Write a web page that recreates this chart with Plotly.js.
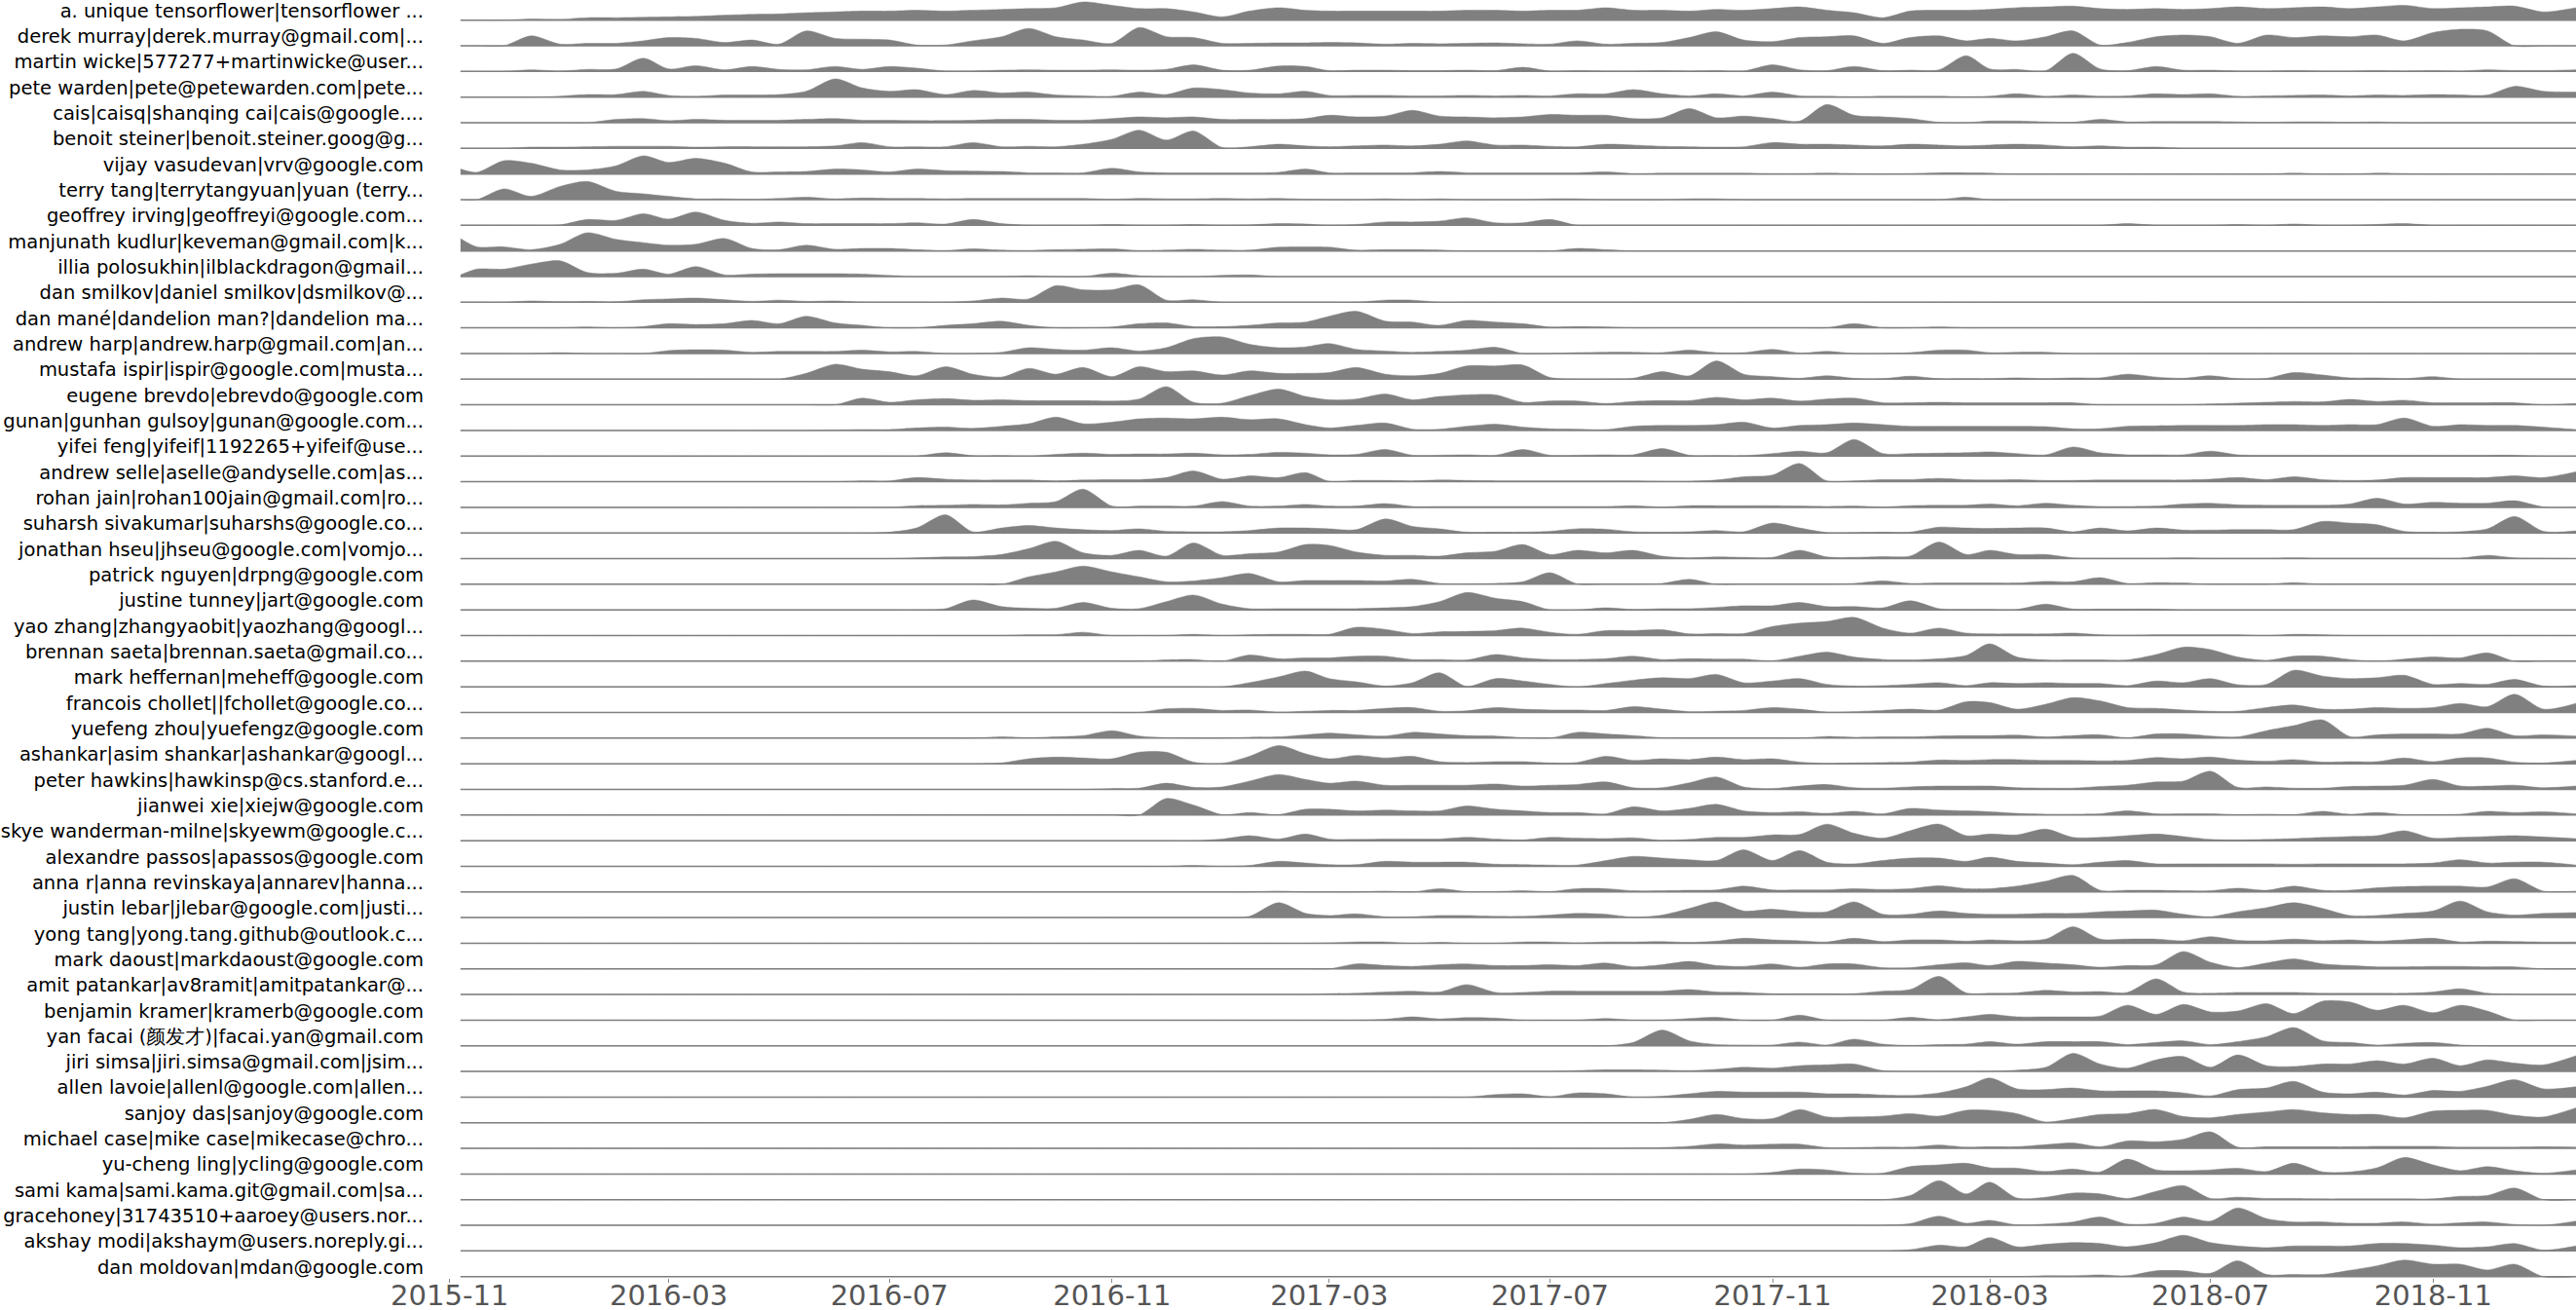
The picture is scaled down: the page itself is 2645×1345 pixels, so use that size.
<!DOCTYPE html>
<html>
<head>
<meta charset="utf-8">
<script src="https://cdn.plot.ly/plotly-3.0.1.min.js"></script>
<style>html,body{margin:0;padding:0;background:#fff;}#chart{width:2645px;height:1345px;}</style>
</head>
<body>
<div id="chart"></div>
<script>
// Sample dates (half-month grid)
const dates = ["2015-11-07","2015-11-16","2015-12-01","2015-12-16",
"2016-01-01","2016-01-16","2016-02-01","2016-02-16","2016-03-01","2016-03-16","2016-04-01","2016-04-16","2016-05-01","2016-05-16","2016-06-01","2016-06-16","2016-07-01","2016-07-16","2016-08-01","2016-08-16","2016-09-01","2016-09-16","2016-10-01","2016-10-16","2016-11-01","2016-11-16","2016-12-01","2016-12-16",
"2017-01-01","2017-01-16","2017-02-01","2017-02-16","2017-03-01","2017-03-16","2017-04-01","2017-04-16","2017-05-01","2017-05-16","2017-06-01","2017-06-16","2017-07-01","2017-07-16","2017-08-01","2017-08-16","2017-09-01","2017-09-16","2017-10-01","2017-10-16","2017-11-01","2017-11-16","2017-12-01","2017-12-16",
"2018-01-01","2018-01-16","2018-02-01","2018-02-16","2018-03-01","2018-03-16","2018-04-01","2018-04-16","2018-05-01","2018-05-16","2018-06-01","2018-06-16","2018-07-01","2018-07-16","2018-08-01","2018-08-16","2018-09-01","2018-09-16","2018-10-01","2018-10-16","2018-11-01","2018-11-16","2018-12-01","2018-12-16",
"2019-01-01","2019-01-19"];

const contributors = [
"a. unique tensorflower|tensorflower ...",
"derek murray|derek.murray@gmail.com|...",
"martin wicke|577277+martinwicke@user...",
"pete warden|pete@petewarden.com|pete...",
"cais|caisq|shanqing cai|cais@google....",
"benoit steiner|benoit.steiner.goog@g...",
"vijay vasudevan|vrv@google.com",
"terry tang|terrytangyuan|yuan (terry...",
"geoffrey irving|geoffreyi@google.com...",
"manjunath kudlur|keveman@gmail.com|k...",
"illia polosukhin|ilblackdragon@gmail...",
"dan smilkov|daniel smilkov|dsmilkov@...",
"dan mané|dandelion man?|dandelion ma...",
"andrew harp|andrew.harp@gmail.com|an...",
"mustafa ispir|ispir@google.com|musta...",
"eugene brevdo|ebrevdo@google.com",
"gunan|gunhan gulsoy|gunan@google.com...",
"yifei feng|yifeif|1192265+yifeif@use...",
"andrew selle|aselle@andyselle.com|as...",
"rohan jain|rohan100jain@gmail.com|ro...",
"suharsh sivakumar|suharshs@google.co...",
"jonathan hseu|jhseu@google.com|vomjo...",
"patrick nguyen|drpng@google.com",
"justine tunney|jart@google.com",
"yao zhang|zhangyaobit|yaozhang@googl...",
"brennan saeta|brennan.saeta@gmail.co...",
"mark heffernan|meheff@google.com",
"francois chollet||fchollet@google.co...",
"yuefeng zhou|yuefengz@google.com",
"ashankar|asim shankar|ashankar@googl...",
"peter hawkins|hawkinsp@cs.stanford.e...",
"jianwei xie|xiejw@google.com",
"skye wanderman-milne|skyewm@google.c...",
"alexandre passos|apassos@google.com",
"anna r|anna revinskaya|annarev|hanna...",
"justin lebar|jlebar@google.com|justi...",
"yong tang|yong.tang.github@outlook.c...",
"mark daoust|markdaoust@google.com",
"amit patankar|av8ramit|amitpatankar@...",
"benjamin kramer|kramerb@google.com",
"yan facai (颜发才)|facai.yan@gmail.com",
"jiri simsa|jiri.simsa@gmail.com|jsim...",
"allen lavoie|allenl@google.com|allen...",
"sanjoy das|sanjoy@google.com",
"michael case|mike case|mikecase@chro...",
"yu-cheng ling|ycling@google.com",
"sami kama|sami.kama.git@gmail.com|sa...",
"gracehoney|31743510+aaroey@users.nor...",
"akshay modi|akshaym@users.noreply.gi...",
"dan moldovan|mdan@google.com"
];

// Activity density per contributor (relative units, 62 = one row height)
const r01 = [0,0,0,3,2,6,6,7,8,9, 12,14,15,18,20,22,22,24,22,24, 26,28,30,44,36,28,28,20,8,22, 30,24,22,22,22,22,22,24,24,22, 24,24,30,24,24,22,26,24,28,32, 24,18,6,22,24,24,26,30,32,34, 28,26,28,26,28,32,28,30,32,28, 32,36,28,30,32,34,20,30];
const r02 = [0,0,0,24,4,6,6,12,20,18, 8,14,4,36,18,16,14,2,2,12, 22,42,22,14,6,44,22,20,6,6, 7,7,8,7,4,6,5,6,7,5, 4,12,4,6,8,20,34,14,10,20, 22,24,6,20,24,12,18,12,22,36, 2,8,22,26,22,6,26,20,24,22, 26,12,32,40,36,0,0,0];
const r03 = [0,0,0,4,1,5,6,32,6,14, 4,12,5,4,12,5,12,8,1,1, 3,4,3,3,4,3,5,16,3,3, 13,12,2,3,3,2,2,3,2,10, 1,2,1,1,2,1,2,1,16,4, 2,12,2,3,4,38,6,5,2,44, 6,2,12,3,3,1,1,2,1,1, 2,1,2,1,4,2,2,4];
const r04 = [0,0,0,0,2,6,6,14,4,2, 5,5,6,14,44,22,14,18,6,16, 10,12,5,3,2,12,6,22,18,10, 8,14,4,4,4,3,3,4,3,4, 3,8,8,18,8,3,8,3,12,3, 2,1,2,2,2,1,2,8,2,5, 2,3,8,6,8,2,3,4,5,3, 5,4,6,5,5,26,14,12];
const r05 = [0,0,0,0,0,0,8,10,5,8, 6,6,6,8,10,6,6,5,5,6, 8,8,6,6,10,14,12,14,8,8, 8,10,18,14,16,30,16,14,12,14, 20,18,18,10,12,34,12,16,10,4, 44,18,14,10,1,0,4,4,2,1, 8,2,3,3,3,2,1,2,2,1, 2,0,0,0,0,0,0,0];
const r06 = [0,0,0,3,3,4,5,5,5,3, 4,4,4,4,6,14,4,4,4,14, 4,5,4,10,22,44,20,42,2,4, 10,6,4,6,8,6,10,18,8,8, 5,4,10,8,5,4,3,4,14,10, 10,8,6,10,8,6,8,10,8,4, 6,3,3,0,0,0,0,0,0,0, 0,0,0,0,0,0,0,0];
const r07 = [12,4,32,26,10,10,20,44,28,38, 26,5,5,6,12,10,5,12,8,7, 6,3,3,3,14,5,3,3,3,3, 4,12,3,3,3,3,6,3,3,3, 3,3,5,1,2,2,2,2,1,1, 2,1,0,1,3,3,2,0,0,0, 0,0,0,0,0,0,0,2,0,0, 2,1,0,0,0,0,0,0];
const r08 = [0,0,26,8,32,44,20,14,8,2, 2,1,3,6,2,4,3,3,2,3, 3,3,3,3,1,3,2,2,3,2, 3,1,0,0,2,0,2,0,0,0, 2,2,0,0,0,2,2,0,0,0, 0,0,0,0,0,6,0,0,0,0, 0,0,0,0,0,0,0,0,0,0, 0,0,0,0,0,0,0,0];
const r09 = [0,0,0,0,1,14,12,28,15,32, 12,5,8,4,4,4,4,6,3,14, 4,0,0,0,2,0,0,2,0,1, 4,3,0,2,8,8,10,18,6,6, 14,0,0,0,0,0,0,0,0,0, 0,0,0,0,0,0,0,0,0,0, 0,4,0,0,0,2,0,3,0,0, 2,4,0,0,0,0,0,0];
const r10 = [30,10,10,3,16,44,28,20,14,16, 30,6,3,14,4,6,6,3,1,5, 2,1,3,4,5,1,2,4,2,2, 9,10,9,2,3,3,2,0,0,0, 0,6,3,0,0,0,0,0,0,0, 0,0,0,0,0,0,0,0,0,0, 0,0,0,0,0,0,0,0,0,0, 0,0,0,0,0,0,0,0];
const r11 = [4,18,18,30,38,10,8,18,6,24, 4,6,7,7,7,6,3,0,0,0, 0,2,0,0,8,2,0,0,3,4, 0,0,0,0,0,0,0,0,0,0, 0,0,0,0,0,0,0,0,0,0, 0,0,0,0,0,0,0,0,0,0, 0,0,0,0,0,0,0,0,0,0, 0,0,0,0,0,0,0,0];
const r12 = [0,0,0,3,1,2,1,6,8,10, 6,2,5,2,3,0,0,0,0,3, 10,8,40,30,30,42,5,6,0,0, 0,0,0,0,5,5,0,0,0,0, 0,0,0,0,0,0,0,0,0,0, 0,0,0,0,0,0,0,0,0,0, 0,0,0,0,0,0,0,0,0,0, 0,0,0,0,0,0,0,0];
const r13 = [0,0,0,0,0,2,0,3,10,8, 10,18,10,28,12,6,0,0,6,10, 16,6,0,0,2,10,12,3,3,6, 12,14,28,40,16,14,6,18,14,10, 2,3,2,0,0,0,0,0,0,0, 0,10,0,0,2,0,0,0,0,0, 0,0,0,0,0,0,0,0,0,0, 0,0,0,0,0,0,0,0];
const r14 = [0,0,0,0,2,0,0,0,7,9, 8,3,5,5,5,8,4,5,0,0, 3,14,10,8,14,6,14,36,40,22, 14,16,24,10,6,3,5,8,15,0, 0,2,3,3,2,8,2,2,10,1, 5,0,0,2,8,8,2,3,3,0, 0,0,0,0,0,0,0,0,0,0, 0,0,0,0,0,0,0,0];
const r15 = [0,0,0,0,0,0,0,0,0,0, 0,0,0,14,36,24,18,8,30,12, 5,26,12,28,6,30,18,20,10,20, 14,14,16,28,12,8,14,32,32,34, 4,0,0,2,18,8,44,12,6,2, 8,2,1,7,1,1,1,3,1,3, 3,12,5,2,8,1,2,16,10,3, 3,1,6,0,0,0,0,0];
const r16 = [0,0,0,0,0,0,0,0,0,0, 0,0,0,0,0,16,6,12,15,11, 12,10,10,10,9,14,44,6,4,22, 38,20,12,14,26,12,20,24,24,6, 9,9,3,8,10,10,18,12,16,9, 14,16,5,5,6,5,5,5,5,5, 0,0,0,0,2,4,6,8,7,13, 8,11,5,5,5,5,0,3];
const r17 = [0,0,0,0,0,0,0,0,0,0, 0,0,0,0,1,2,2,6,8,5, 10,16,32,16,20,28,30,28,32,26, 28,14,6,12,18,3,3,10,15,8, 4,3,2,10,12,12,14,20,6,12, 14,18,14,10,10,10,10,10,9,4, 4,10,11,12,12,12,14,14,12,14, 14,30,10,14,12,12,8,2];
const r18 = [0,0,0,0,0,0,0,0,0,0, 0,0,0,0,0,0,0,0,8,1, 1,0,4,7,4,5,5,7,3,4, 9,7,3,4,16,2,2,3,2,16, 2,2,3,3,18,2,1,1,6,12, 8,40,6,6,7,8,10,6,3,22, 8,3,3,3,12,3,2,2,2,2, 2,2,2,2,2,2,0,0];
const r19 = [0,0,0,0,0,0,0,0,0,0, 0,0,0,0,0,2,2,10,6,4, 4,4,2,4,5,5,10,26,6,14, 10,22,1,3,3,2,4,3,2,2, 2,2,2,2,1,1,4,12,16,44, 2,2,5,5,8,5,4,5,3,3, 4,4,4,4,6,10,5,12,5,3, 4,10,10,10,10,14,10,24];
const r20 = [0,0,0,0,0,0,0,0,0,0, 0,0,0,0,0,0,0,4,5,7, 6,10,14,44,3,3,3,3,14,3, 3,7,3,3,9,2,2,2,2,2, 2,2,2,4,1,4,4,4,4,3, 2,3,1,4,5,5,8,4,10,5, 2,2,3,8,10,6,5,5,5,8, 22,8,12,10,10,16,1,0];
const r21 = [0,0,0,0,0,0,0,0,0,0, 0,0,0,0,0,0,2,12,44,3, 12,18,12,8,6,10,4,3,3,6, 12,12,10,8,34,16,10,2,2,2, 4,10,9,3,2,3,6,3,24,12, 1,1,2,2,14,12,11,12,12,3, 12,5,12,7,7,8,8,8,28,24, 20,4,2,3,10,40,4,5];
const r22 = [0,0,0,0,0,0,0,0,0,0, 0,0,0,0,0,0,0,2,4,5, 10,24,42,14,8,20,6,38,8,12, 16,34,32,16,8,8,6,14,18,34, 10,20,14,20,6,2,4,3,3,20, 4,3,5,6,40,10,20,10,10,2, 1,1,1,2,1,1,1,2,1,1, 1,1,1,1,8,2,1,0];
const r23 = [0,0,0,0,0,0,0,0,0,0, 0,0,0,0,0,0,0,0,0,0, 0,18,30,44,30,18,6,8,16,26, 6,9,9,9,8,12,2,1,2,6, 28,1,0,0,2,12,0,0,0,0, 0,2,8,2,3,3,3,3,7,6, 16,2,4,3,0,0,0,4,0,0, 0,0,0,0,0,0,0,0];
const r24 = [0,0,0,0,0,0,0,0,0,0, 0,0,0,0,0,0,0,0,3,24, 8,4,4,18,4,3,20,36,14,3, 3,3,3,3,5,8,20,42,28,20, 0,0,5,1,3,3,6,10,10,18, 8,8,5,22,3,1,1,1,14,2, 2,2,2,0,0,0,0,0,0,0, 0,0,0,0,0,0,0,0];
const r25 = [0,0,0,0,0,0,0,0,0,0, 0,0,0,0,0,0,0,0,0,0, 0,2,2,8,0,0,0,3,0,2, 3,3,3,20,15,5,9,10,12,18, 8,3,12,12,14,4,5,5,22,30, 34,44,18,6,18,6,4,4,4,6, 2,1,2,2,2,2,0,3,2,0, 0,0,0,0,0,0,0,0];
const r26 = [0,0,0,0,0,0,0,0,0,0, 0,0,0,0,0,0,0,0,0,0, 0,0,0,0,0,0,3,4,0,15, 6,8,8,12,12,4,4,3,16,8, 4,4,6,12,4,6,5,5,1,12, 22,10,4,3,6,14,42,10,3,3, 3,3,16,34,28,10,2,12,12,4, 0,5,10,8,20,0,0,0];
const r27 = [0,0,0,0,0,0,0,0,0,0, 0,0,0,0,0,0,0,0,0,0, 0,0,0,0,0,0,0,0,0,10, 24,38,20,12,2,10,34,1,20,14, 6,0,8,16,22,20,30,10,14,20, 6,2,3,6,10,3,10,8,10,8, 8,3,14,10,20,5,6,40,26,20, 22,28,6,8,6,18,2,3];
const r28 = [0,0,0,0,0,0,0,0,0,0, 0,0,0,0,0,0,0,0,0,0, 0,0,0,0,0,0,9,10,5,6, 1,3,5,5,10,12,3,4,12,8, 6,6,5,14,8,2,3,5,12,8, 1,2,5,8,6,26,24,8,20,36, 28,12,10,6,3,3,12,18,8,8, 12,10,12,22,14,44,8,22];
const r29 = [0,0,0,0,0,0,0,0,0,0, 0,0,0,0,0,0,0,0,0,0, 3,1,3,6,18,5,1,0,0,2, 3,8,12,8,5,14,10,6,5,1, 0,14,10,6,1,0,0,0,0,0, 4,2,3,3,5,6,6,7,3,6, 8,1,10,10,5,3,18,30,44,4, 8,10,10,10,24,6,8,5];
const r30 = [0,0,0,0,0,0,0,0,0,0, 0,0,0,0,0,0,0,0,0,0, 2,12,16,14,12,28,28,4,1,18, 44,24,12,20,14,18,5,3,5,5, 2,3,18,8,12,10,16,10,12,4, 1,2,3,4,9,8,10,10,8,8, 7,8,15,12,16,9,6,10,4,5, 5,14,5,14,14,4,2,8];
const r31 = [0,0,0,0,0,0,0,0,0,0, 0,0,0,0,0,0,0,0,0,0, 0,0,0,0,2,3,15,5,6,20, 36,24,15,20,10,10,10,10,13,8, 10,12,18,4,4,16,30,6,2,8, 12,4,3,6,8,8,8,4,3,3, 7,10,18,20,44,5,6,3,3,7, 8,10,24,8,8,10,4,8];
const r32 = [0,0,0,0,0,0,0,0,0,0, 0,0,0,0,0,0,0,0,0,0, 0,0,0,0,0,0,40,24,1,6, 1,14,14,10,12,10,10,22,14,10, 6,6,3,20,10,16,26,10,6,8, 4,9,3,16,12,10,8,4,2,2, 3,10,3,3,3,1,2,1,9,2, 6,1,1,2,9,6,8,3];
const r33 = [0,0,0,0,0,0,0,0,0,0, 0,0,0,0,0,0,0,0,0,0, 0,0,0,0,0,0,0,0,4,12, 4,16,4,3,4,4,4,8,4,2, 8,6,5,7,1,3,8,8,14,15, 40,18,6,24,40,12,16,14,28,8, 8,12,16,10,3,2,3,5,8,10, 12,24,6,8,10,12,9,5];
const r34 = [0,0,0,0,0,0,0,0,0,0, 0,0,0,0,0,0,0,0,0,0, 0,0,0,0,0,0,0,2,0,2, 12,8,4,4,12,10,10,10,5,4, 3,3,14,24,20,16,14,40,14,38, 10,6,14,20,20,12,22,12,8,4, 10,14,6,6,6,6,6,5,6,6, 6,6,8,16,8,10,10,3];
const r35 = [0,0,0,0,0,0,0,0,0,0, 0,0,0,0,0,0,0,0,0,0, 0,0,0,0,0,0,0,0,0,0, 2,0,0,0,2,0,8,1,1,3, 1,8,8,3,3,4,5,14,5,5, 5,8,6,8,15,8,8,14,26,40, 4,4,4,3,3,9,4,14,4,4, 10,13,14,14,12,32,2,2];
const r36 = [0,0,0,0,0,0,0,0,0,0, 0,0,0,0,0,0,0,0,0,0, 0,0,0,0,0,0,0,0,0,3, 36,10,5,9,2,2,5,5,3,3, 6,10,8,1,6,22,38,16,20,14, 14,38,8,8,16,10,8,8,10,10, 14,16,18,8,2,14,24,36,22,5, 5,10,16,40,14,6,10,12];
const r37 = [0,0,0,0,0,0,0,0,0,0, 0,0,0,0,0,0,0,0,0,0, 0,0,0,0,0,0,0,0,0,0, 0,0,1,3,3,0,2,0,0,3, 3,1,3,3,4,2,5,12,8,6, 3,12,4,8,8,5,8,6,10,40, 10,10,10,6,16,7,6,10,6,8, 5,8,12,3,5,4,3,3];
const r38 = [0,0,0,0,0,0,0,0,0,0, 0,0,0,0,0,0,0,0,0,0, 0,0,0,0,0,0,0,0,0,0, 0,0,0,12,8,6,10,12,8,8, 10,8,14,5,10,18,8,6,12,4, 12,12,3,3,10,15,8,18,14,10, 4,8,10,42,16,3,14,24,12,8, 5,5,6,6,5,5,0,0];
const r39 = [0,0,0,0,0,0,0,0,0,0, 0,0,0,0,0,0,0,0,0,0, 0,0,0,0,0,0,0,0,0,0, 0,0,2,3,6,8,6,24,5,5, 8,8,8,8,8,12,6,5,2,2, 2,2,8,12,44,4,3,4,10,6, 7,5,38,6,3,5,5,5,3,3, 3,3,6,14,3,1,0,0];
const r40 = [0,0,0,0,0,0,0,0,0,0, 0,0,0,0,0,0,0,0,0,0, 0,0,0,0,0,0,0,0,0,0, 0,0,0,0,2,8,3,6,5,0, 0,0,4,0,0,4,7,0,0,12, 0,0,0,7,1,8,14,8,8,8, 10,36,14,38,20,22,40,16,46,44, 24,36,18,36,22,0,0,0];
const r41 = [0,0,0,0,0,0,0,0,0,0, 0,0,0,0,0,0,0,0,0,0, 0,0,0,0,0,0,0,0,0,0, 0,0,0,0,0,0,0,0,0,0, 0,0,0,8,38,12,3,2,2,9, 2,16,4,1,3,4,10,4,10,10, 10,3,8,12,3,10,22,44,12,8, 2,6,8,2,0,0,0,0];
const r42 = [0,0,0,0,0,0,0,0,0,0, 0,0,0,0,0,0,0,0,0,0, 0,0,0,0,0,0,0,0,0,0, 0,0,0,0,0,0,0,0,0,0, 0,2,4,4,3,2,5,10,8,14, 16,18,2,0,0,0,0,3,10,44, 18,8,28,36,10,40,14,12,18,18, 26,18,32,14,28,20,16,38];
const r43 = [0,0,0,0,0,0,0,0,0,0, 0,0,0,0,0,0,0,0,0,0, 0,0,0,0,0,0,0,0,0,0, 0,0,0,0,0,0,0,0,6,8, 1,10,8,0,2,8,14,12,12,12, 8,8,5,4,10,25,46,20,18,22, 15,15,15,10,3,18,22,38,12,8, 12,5,16,14,26,42,20,25];
const r44 = [0,0,0,0,0,0,0,0,0,0, 0,0,0,0,0,0,0,0,0,0, 0,0,0,0,0,0,0,0,0,0, 0,0,0,0,0,0,0,0,0,0, 0,0,0,0,0,8,20,10,10,32, 14,14,16,22,16,30,30,22,2,10, 20,22,32,15,12,20,26,32,24,20, 20,12,28,30,30,18,14,36];
const r45 = [0,0,0,0,0,0,0,0,0,0, 0,0,0,0,0,0,0,0,0,0, 0,0,0,0,0,0,0,0,0,0, 0,0,0,0,0,0,0,0,0,0, 0,0,0,1,2,5,11,8,10,10, 2,2,3,3,8,3,4,4,9,13, 4,18,16,22,40,3,4,4,4,4, 5,5,5,3,3,3,4,3];
const r46 = [0,0,0,0,0,0,0,0,0,0, 0,0,0,0,0,0,0,0,0,0, 0,0,0,0,0,0,0,0,0,0, 0,0,0,0,0,0,0,0,0,0, 0,0,0,0,0,0,0,0,4,12, 10,2,2,18,22,26,15,14,6,12, 5,36,10,8,10,14,6,26,5,5, 15,40,22,8,18,8,2,10];
const r47 = [0,0,0,0,0,0,0,0,0,0, 0,0,0,0,0,0,0,0,0,0, 0,0,0,0,0,0,0,0,0,0, 0,0,0,0,0,0,0,0,0,0, 0,0,0,0,0,0,0,0,0,0, 0,0,0,10,46,14,42,4,6,16, 14,3,20,34,3,6,3,3,2,2, 2,2,2,8,10,28,0,0];
const r48 = [0,0,0,0,0,0,0,0,0,0, 0,0,0,0,0,0,0,0,0,0, 0,0,0,0,0,0,0,0,0,0, 0,0,0,0,0,0,0,0,0,0, 0,0,0,0,0,0,0,0,0,0, 0,0,0,4,22,5,12,1,3,8, 20,3,5,20,10,42,16,8,8,5, 5,8,3,6,8,2,0,10];
const r49 = [0,0,0,0,0,0,0,0,0,0, 0,0,0,0,0,0,0,0,0,0, 0,0,0,0,0,0,0,0,0,0, 0,0,0,0,0,0,0,0,0,0, 0,0,0,0,0,0,0,0,0,0, 0,0,0,3,14,10,32,10,16,20, 18,10,20,38,20,12,8,12,12,12, 18,18,14,8,10,18,2,12];
const r50 = [0,0,0,0,0,0,0,0,0,0, 0,0,0,0,0,0,0,0,0,0, 0,0,0,0,0,0,0,0,0,0, 0,0,0,0,0,0,0,0,0,0, 0,0,0,0,0,0,0,0,0,0, 0,0,0,0,0,0,0,0,2,2, 4,2,14,14,8,38,5,5,5,15, 26,40,30,30,16,30,0,0];

const series = [r01,r02,r03,r04,r05,r06,r07,r08,r09,r10,r11,r12,r13,r14,r15,r16,r17,r18,r19,r20,
r21,r22,r23,r24,r25,r26,r27,r28,r29,r30,r31,r32,r33,r34,r35,r36,r37,r38,r39,r40,
r41,r42,r43,r44,r45,r46,r47,r48,r49,r50];

const ROW_UNIT = 62;      // density value equal to one row spacing
const GRAY = 'rgb(128,128,128)';
const N = series.length;

const traces = [];
const tickvals = [];
series.forEach((vals, i) => {
  const base = N - 1 - i;
  tickvals.push(base + 0.37);
  traces.push({
    x: [dates[0], dates[dates.length - 1]], y: [base, base],
    type: 'scatter', mode: 'lines',
    line: {color: GRAY, width: 1.5},
    hoverinfo: 'skip', showlegend: false
  });
  traces.push({
    x: dates, y: vals.map(v => base + v / ROW_UNIT),
    type: 'scatter', mode: 'lines',
    line: {color: GRAY, width: 0.5, shape: 'spline', smoothing: 0.8},
    fill: 'tonexty', fillcolor: GRAY,
    hoverinfo: 'skip', showlegend: false
  });
});

const layout = {
  width: 2645, height: 1345,
  margin: {l: 447, r: 0, t: 0, b: 33, pad: 0},
  paper_bgcolor: '#fff', plot_bgcolor: '#fff',
  showlegend: false,
  xaxis: {
    type: 'date',
    range: ['2015-10-24 02:10', '2019-01-18 23:17'],
    showgrid: false, zeroline: false, showline: false,
    ticks: 'outside', ticklen: 4, tickwidth: 1, tickcolor: '#888',
    tick0: '2015-11-01', dtick: 'M4', tickformat: '%Y-%m',
    ticklabelstandoff: -12, ticklabeloverflow: 'allow',
    tickfont: {family: 'DejaVu Sans', size: 29, color: '#555555'}
  },
  yaxis: {
    range: [-0.05, 49.786],
    showgrid: false, zeroline: false, showline: false,
    ticks: '', tickmode: 'array', tickvals: tickvals, ticktext: contributors,
    ticklabelstandoff: 11, ticklabeloverflow: 'allow',
    tickfont: {family: 'DejaVu Sans', size: 19.5, color: '#000'}
  }
};

Plotly.newPlot('chart', traces, layout, {staticPlot: true, displayModeBar: false});
</script>
</body>
</html>
